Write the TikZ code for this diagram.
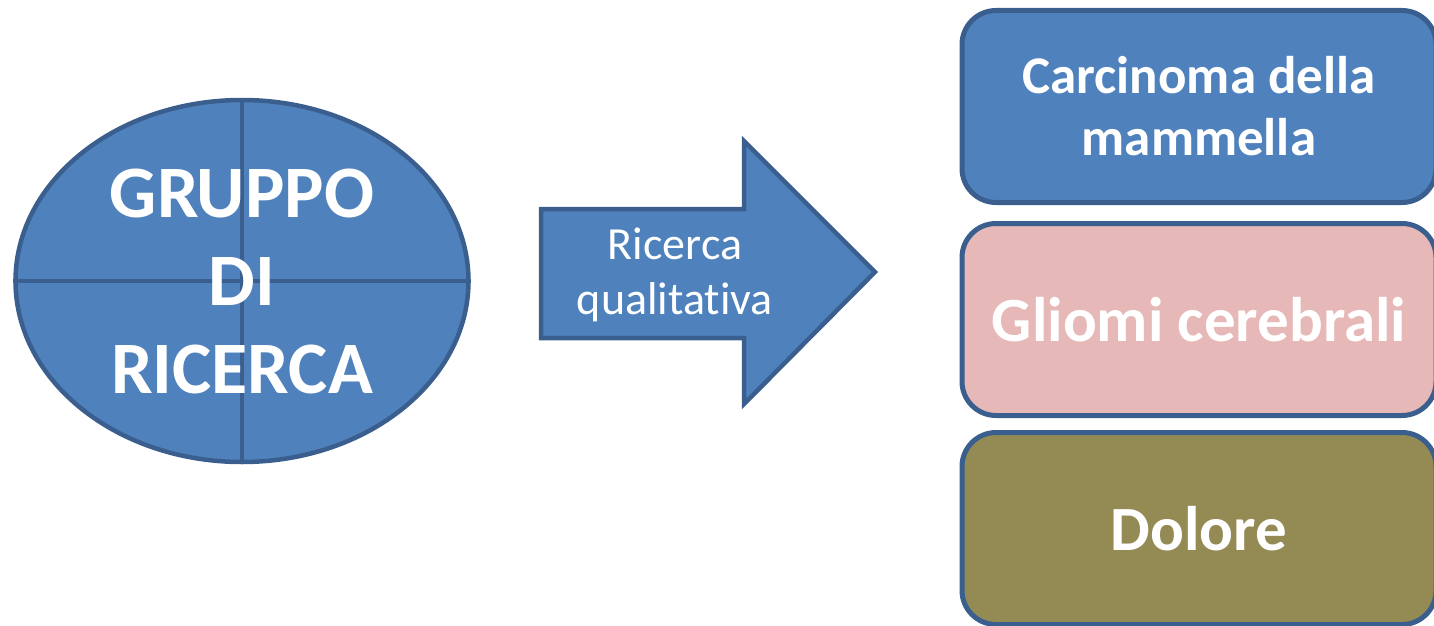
\documentclass[tikz,border=0pt]{standalone}
\usepackage{fontspec}
\setmainfont{Carlito}[Ligatures=NoCommon]
\usetikzlibrary{shapes.geometric}
\definecolor{fillblue}{HTML}{4F81BD}
\definecolor{edgeblue}{HTML}{3A5F8E}
\definecolor{fillpink}{HTML}{E6B8B7}
\definecolor{fillolive}{HTML}{948A54}
\tikzset{
    topicbox/.style={draw=edgeblue, line width=5pt, rounded corners=34pt,
        minimum width=474pt, minimum height=192pt, inner sep=0pt,
        text=white, align=center, font=\bfseries\fontsize{63}{66}\selectfont},
}
\begin{document}
\begin{tikzpicture}[x=1pt, y=-1pt]
    \useasboundingbox (0,0) rectangle (1434,626);

    % Ellipse with cross
    \node[ellipse, draw=edgeblue, line width=4.5pt, fill=fillblue,
        minimum width=453pt, minimum height=362pt, inner sep=0pt] (gruppo) at (242,281) {};
    \draw[edgeblue, line width=4.5pt] (gruppo.north) -- (gruppo.south);
    \draw[edgeblue, line width=4.5pt] (gruppo.west) -- (gruppo.east);
    \node[text=white, align=center, inner sep=0pt,
        font=\bfseries\fontsize{74}{88}\selectfont] (gruppotext) at (gruppo.center)
        {GRUPPO\\DI\\RICERCA};

    % Block arrow
    \draw[edgeblue, line width=4.5pt, fill=fillblue, line join=miter]
        (541,209) -- (744,209) -- (744,141) -- (875,272) -- (744,404)
        -- (744,338) -- (541,338) -- cycle;
    \node[text=white, align=center, inner sep=0pt,
        font=\fontsize{46}{55}\selectfont] (ricerca) at (675,275)
        {Ricerca\\qualitativa};

    % Topics
    \node[topicbox, fill=fillblue, font=\bfseries\fontsize{53}{62}\selectfont]
        (carcinoma) at (1199,106.5) {Carcinoma della\\mammella};
    \node[topicbox, fill=fillpink] (gliomi) at (1199,319.5) {Gliomi cerebrali};
    \node[topicbox, fill=fillolive] (dolore) at (1199,528.5) {Dolore};
\end{tikzpicture}
\end{document}
